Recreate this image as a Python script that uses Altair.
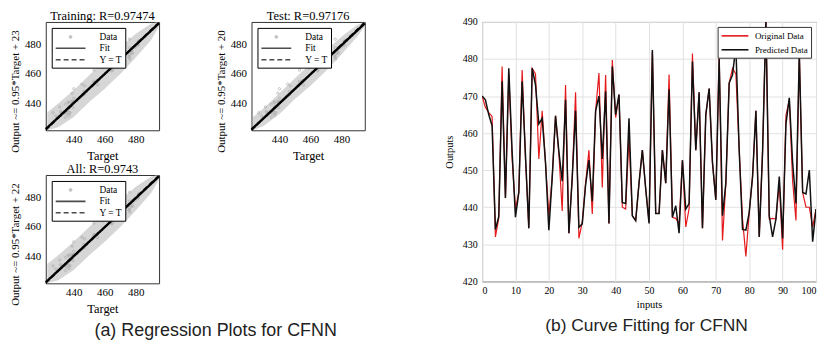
import altair as alt
import pandas as pd

# ---------------- data ----------------
inputs = list(range(101))
original = [470, 467, 465.5, 464.5, 432, 437, 478, 442.5, 476, 453,
            439.5, 444, 477, 453, 434.5, 477.5, 476, 453, 466, 452,
            437.7, 448, 464.7, 454.5, 439, 473, 433, 448, 471, 431.6,
            436, 446.5, 455.4, 438.2, 466, 476.2, 445.3, 475.7, 435.6, 479.7,
            464.2, 470.4, 440, 439.5, 459, 437.7, 436.4, 446.5, 455.4, 445,
            436, 482, 438.3, 438.3, 455.4, 446.5, 475.8, 437.3, 437, 435.6,
            452.7, 434.7, 439.6, 481.5, 455.4, 471, 434.3, 465, 472, 452,
            442, 481.5, 431, 446.5, 473.5, 477.5, 476, 455.4, 436.8, 426.7,
            438.6, 448.3, 466, 432, 455, 491, 436.8, 437, 436.8, 446.5,
            428.5, 464.8, 469, 447, 436.4, 481.5, 444, 440, 440, 434.7,
            439.5]
predicted = [470, 469, 465, 462, 434, 437.5, 474, 442.5, 477.5, 455,
             437.3, 444, 474, 454, 434.3, 477.5, 473, 462.5, 464, 452,
             433.8, 448, 464.7, 455, 447, 469, 433, 448, 466, 434.6,
             435.5, 446, 452.7, 441.6, 466, 470, 453, 471.3, 435.6, 478,
             465, 470.4, 441.3, 441, 464, 437.7, 436.4, 446.5, 455.4, 445,
             435.6, 482.4, 438.3, 438.3, 455.4, 446.5, 471.8, 437.3, 440.4, 433,
             452.7, 439.5, 441, 479.3, 455.4, 471, 434.3, 465, 472, 452,
             442, 480, 437.7, 446.5, 473.5, 475.7, 483.4, 455.4, 434, 433.8,
             438.6, 448.3, 466, 432, 455, 490, 437.7, 432, 436.8, 448.3,
             431.6, 462.5, 469.5, 452, 441, 481.5, 444, 443.6, 450, 430.7,
             439.5]

# regression panels: extent of the grey data cloud along the target axis
band_target = [423, 430, 440, 450, 460, 470, 480, 490, 495]
train_low = [422, 424, 431, 441, 450, 460, 471, 483, 492]
train_high = [434, 440, 449, 459, 469, 478, 487, 494, 495]
test_low = [422, 425, 433, 443, 452, 462, 473, 485, 492]
test_high = [431, 437, 447, 457, 467, 476, 485, 493, 495]
all_low = [422, 424, 431, 441, 450, 460, 471, 483, 492]
all_high = [435, 441, 450, 460, 469, 478, 487, 494, 495]

line_ends = [422, 495]
train_fit = [422.8, 494.2]
test_fit = [422.5, 494.0]
all_fit = [422.7, 494.1]

reg_ticks = [440, 460, 480]
series_names = ["Data", "Fit", "Y = T"]
line_names = ["Original Data", "Predicted Data"]

SERIF = "Liberation Serif"
SANS = "Liberation Sans"
DOT = "M-0.2,0a0.2,0.2 0 1,0 0.4,0a0.2,0.2 0 1,0 -0.4,0"
LONG = "M-3,0H3"
RLONG = "M-2.7,0H2.7"
IND = dict(color="independent", shape="independent", strokeDash="independent")
PW, PH = 114, 109


def reg_panel(title, ylab, low, high, fit):
    xs = alt.Scale(domain=line_ends, nice=False, zero=False)
    ys = alt.Scale(domain=line_ends, nice=False, zero=False)
    xaxis = alt.Axis(values=reg_ticks, title="Target", grid=False, ticks=False, tickSize=0,
                     labelFontSize=11, titleFontSize=12.5, labelPadding=3, titlePadding=5,
                     domain=False)
    yaxis = alt.Axis(values=reg_ticks, title=ylab, grid=False, ticks=False, tickSize=0,
                     labelFontSize=11, titleFontSize=11, labelPadding=5, titlePadding=4,
                     domain=False, titleY=PH / 2 + 15)
    x = alt.X("t:Q", scale=xs, axis=xaxis)
    leg = alt.Legend(title=None, orient="top-left", offset=6, strokeColor="black",
                     fillColor="white", padding=3, labelFont=SERIF, labelFontSize=9.5,
                     symbolSize=100, symbolStrokeWidth=1.6, rowPadding=0.5,
                     symbolOffset=10, labelOffset=23)
    color = alt.Color("series:N", scale=alt.Scale(domain=series_names,
                                                   range=["#a8a8a8", "black", "black"]),
                      legend=leg)
    band = alt.Chart(pd.DataFrame({"t": band_target, "lo": low, "hi": high})).mark_area(
        color="#d6d6d6").encode(
        x=x, y=alt.Y("lo:Q", scale=ys, axis=yaxis), y2="hi:Q")
    pts = alt.Chart(pd.DataFrame({"t": original, "o": predicted, "series": "Data"})).mark_point(
        filled=False, size=144, strokeWidth=1, clip=True).encode(
        x=x, y=alt.Y("o:Q", scale=ys, axis=yaxis), color=color,
        shape=alt.Shape("series:N", scale=alt.Scale(domain=series_names,
                                                    range=[DOT, LONG, LONG]),
                        legend=leg))
    dash = alt.StrokeDash("series:N", scale=alt.Scale(domain=series_names,
                                                      range=[[1, 0], [1, 0], [5, 3]]),
                          legend=leg)
    fitl = alt.Chart(pd.DataFrame({"t": line_ends, "o": fit, "series": "Fit"})).mark_line(
        strokeWidth=2.4).encode(x=x, y=alt.Y("o:Q", scale=ys, axis=yaxis), color=color,
                                strokeDash=dash)
    ytl = alt.Chart(pd.DataFrame({"t": line_ends, "o": line_ends, "series": "Y = T"})).mark_line(
        strokeWidth=1.1).encode(x=x, y=alt.Y("o:Q", scale=ys, axis=yaxis), color=color,
                                strokeDash=dash)
    return alt.layer(band, pts, fitl, ytl).properties(
        width=PW, height=PH,
        title=alt.TitleParams(title, font=SERIF, fontSize=12.5, fontWeight="normal",
                              offset=-4, color="black"))


train = reg_panel("Training: R=0.97474", "Output ~= 0.95*Target + 23", train_low, train_high, train_fit)
test = reg_panel("Test: R=0.97176", "Output ~= 0.95*Target + 20", test_low, test_high, test_fit)
allp = reg_panel("All: R=0.9743", "Output ~= 0.95*Target + 22", all_low, all_high, all_fit)

# ---------------- curve fitting panel ----------------
lscale = alt.Scale(domain=line_names, range=["#e41a1c", "#111111"])
rleg = alt.Legend(title=None, orient="top-right", offset=5, strokeColor="#333",
                  fillColor="white", padding=3, labelFont=SERIF, labelFontSize=9,
                  symbolType=RLONG, symbolSize=100, symbolStrokeWidth=1.6, rowPadding=3,
                  symbolOffset=8.5, labelOffset=14)
xr = alt.X("inputs:Q", scale=alt.Scale(domain=[0, 100], nice=False),
           axis=alt.Axis(values=list(range(0, 101, 10)), title="inputs", grid=True,
                         gridColor="#e2e2e2", ticks=False, tickSize=0, labelFontSize=10,
                         titleFontSize=10.5, labelPadding=4, titlePadding=4, domain=False))
yr = alt.Y("v:Q", scale=alt.Scale(domain=[420, 490], nice=False, zero=False),
           axis=alt.Axis(values=list(range(420, 491, 10)), title="Outputs", grid=True,
                         gridColor="#e2e2e2", ticks=False, tickSize=0, labelFontSize=10,
                         titleFontSize=10.5, labelPadding=5, titlePadding=8, domain=False))
red = alt.Chart(pd.DataFrame({"inputs": inputs, "v": original, "series": "Original Data"})).mark_line(
    strokeWidth=1.2, clip=True).encode(x=xr, y=yr,
                                        color=alt.Color("series:N", scale=lscale, legend=rleg))
blk = alt.Chart(pd.DataFrame({"inputs": inputs, "v": predicted, "series": "Predicted Data"})).mark_line(
    strokeWidth=1.5, clip=True).encode(x=xr, y=yr,
                                        color=alt.Color("series:N", scale=lscale, legend=rleg))
right = alt.layer(red, blk).properties(width=336, height=261)

cap = dict(orient="bottom", anchor="start", font=SANS, fontWeight="normal",
           color="#222222", offset=7)
top_row = alt.hconcat(train, test, spacing=49).resolve_scale(**IND).resolve_legend(**IND)
left = alt.vconcat(top_row, allp, spacing=0,
                   title=alt.TitleParams("(a) Regression Plots for CFNN", dx=86, fontSize=18, **cap)
                   ).resolve_scale(**IND).resolve_legend(**IND)
right_g = alt.vconcat(right, title=alt.TitleParams("(b) Curve Fitting for CFNN", dx=102,
                                                   fontSize=17.5, **cap)
                      ).resolve_scale(**IND).resolve_legend(**IND)

chart = alt.hconcat(left, right_g, spacing=73).properties(
    padding=0, background="white"
).resolve_scale(**IND).resolve_legend(**IND).configure_axis(
    labelFont=SERIF, titleFont=SERIF, labelColor="black", titleColor="black",
    titleFontWeight="normal"
).configure_view(stroke="#333333", strokeWidth=1)

chart.save("out.html", embed_options={"renderer": "svg", "actions": False})
